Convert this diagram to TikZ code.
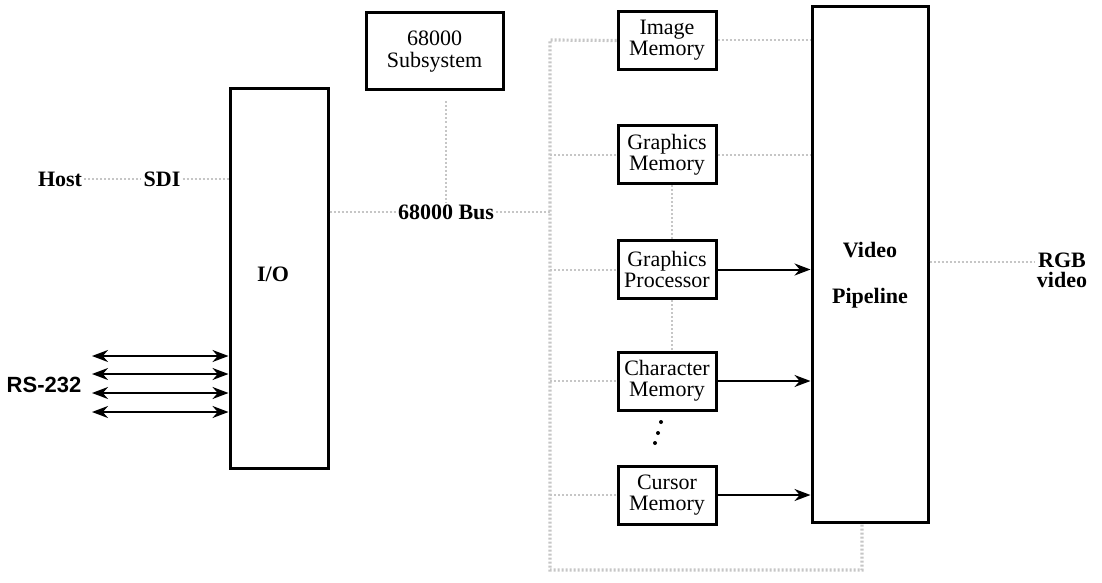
\documentclass[tikz,border=0pt]{standalone}
\usepackage{fontspec}
\setmainfont{Liberation Serif}
\setsansfont{Liberation Sans}
\usetikzlibrary{arrows.meta,calc}
\begin{document}
\begin{tikzpicture}[x=0.5pt,y=-0.5pt,
  box/.style={draw,line width=1.5pt,inner sep=0pt,align=center,font=\fontsize{11}{10.6}\selectfont},
  membox/.style={box,minimum width=49pt,minimum height=29pt},
  lbl/.style={inner sep=1pt,font=\fontsize{11}{10}\selectfont\bfseries,align=center},
  arr/.style={line width=1pt,-{Stealth[length=8pt,width=6pt]}},
  biarr/.style={line width=1pt,{Stealth[length=8pt,width=6pt]}-{Stealth[length=8pt,width=6pt]}},
  faint/.style={draw=gray!45,line width=1pt,densely dotted}]
\useasboundingbox (0,0) rectangle (1102,583);

% left side
\node[lbl] (host) at (60,179) {Host};
\node[lbl] (sdi) at (162,179) {SDI};
\node[box,minimum width=49pt,minimum height=189.5pt] (io) at (279,278.5) {};
\node[lbl] (iolbl) at (273,274) {I/O};
\node[inner sep=1pt,font=\sffamily\bfseries\fontsize{11}{12}\selectfont] (rs) at (44,385) {RS-232};
\foreach \y/\n in {356/a,374/b,393/c,412/d}{
  \coordinate (rs\n) at (92,\y);
  \draw[biarr] (rs\n) -- (rs\n -| io.west);
}

% 68000 subsystem and bus
\node[box,minimum width=68.5pt,minimum height=38.5pt] (sub) at (434.5,51.5) {68000\\Subsystem};
\node[lbl] (buslbl) at (446,212) {68000 Bus};

% memories
\node[membox] (imem) at (667,40.5) {Image\\Memory};
\node[membox] (gmem) at (667,154.5) {Graphics\\Memory};
\node[membox] (gp) at (667,269.5) {Graphics\\Processor};
\node[membox] (cm) at (667,381) {Character\\Memory};
\node[membox] (cur) at (667,495) {Cursor\\Memory};

% video pipeline
\node[box,minimum width=58pt,minimum height=257.5pt] (vp) at (870,264.5) {};
\node[lbl] (vid) at (870,250) {Video};
\node[lbl] (pipe) at (870,298) {Pipeline};
\node[lbl] (rgb) at (1062,270) {RGB\\video};

% solid arrows
\draw[arr] (gp.east) -- (gp.east -| vp.west);
\draw[arr] (cm.east) -- (cm.east -| vp.west);
\draw[arr] (cur.east) -- (cur.east -| vp.west);

% faded connectors
\coordinate (bustop) at (550,40);
\coordinate (busbot) at (550,570);
\coordinate (busright) at (862,570);
\draw[faint] (host.east) -- (sdi.west);
\draw[faint] (sdi.east) -- (sdi.east -| io.west);
\draw[faint] (buslbl.west -| io.east) -- (buslbl.west);
\draw[faint] (sub.south -| buslbl.north) ++(0,10) -- (buslbl.north);
\draw[faint] (buslbl.east) -- (buslbl.east -| bustop);
\draw[faint,line width=1.6pt] (imem.west) -- (bustop) -- (busbot) -- (busright) -- (busright |- vp.south);
\draw[faint] (gmem.west -| bustop) -- (gmem.west);
\draw[faint] (gp.west -| bustop) -- (gp.west);
\draw[faint] (cm.west -| bustop) -- (cm.west);
\draw[faint] (cur.west -| bustop) -- (cur.west);
\draw[faint] (imem.east) -- (imem.east -| vp.west);
\draw[faint] (gmem.east) -- (gmem.east -| vp.west);
\draw[faint] ($(gmem.south)+(5,0)$) -- ($(gp.north)+(5,0)$);
\draw[faint] ($(gp.south)+(5,0)$) -- ($(cm.north)+(5,0)$);
\draw[faint] (vp.east |- rgb.west) ++(0,-8) coordinate (vo) -- (vo -| rgb.west);

% continuation dots between character and cursor memory
\coordinate (e1) at (661,422);
\coordinate (e2) at (658,433);
\coordinate (e3) at (655,443);
\foreach \p in {e1,e2,e3} \fill (\p) circle (2);
\end{tikzpicture}
\end{document}
